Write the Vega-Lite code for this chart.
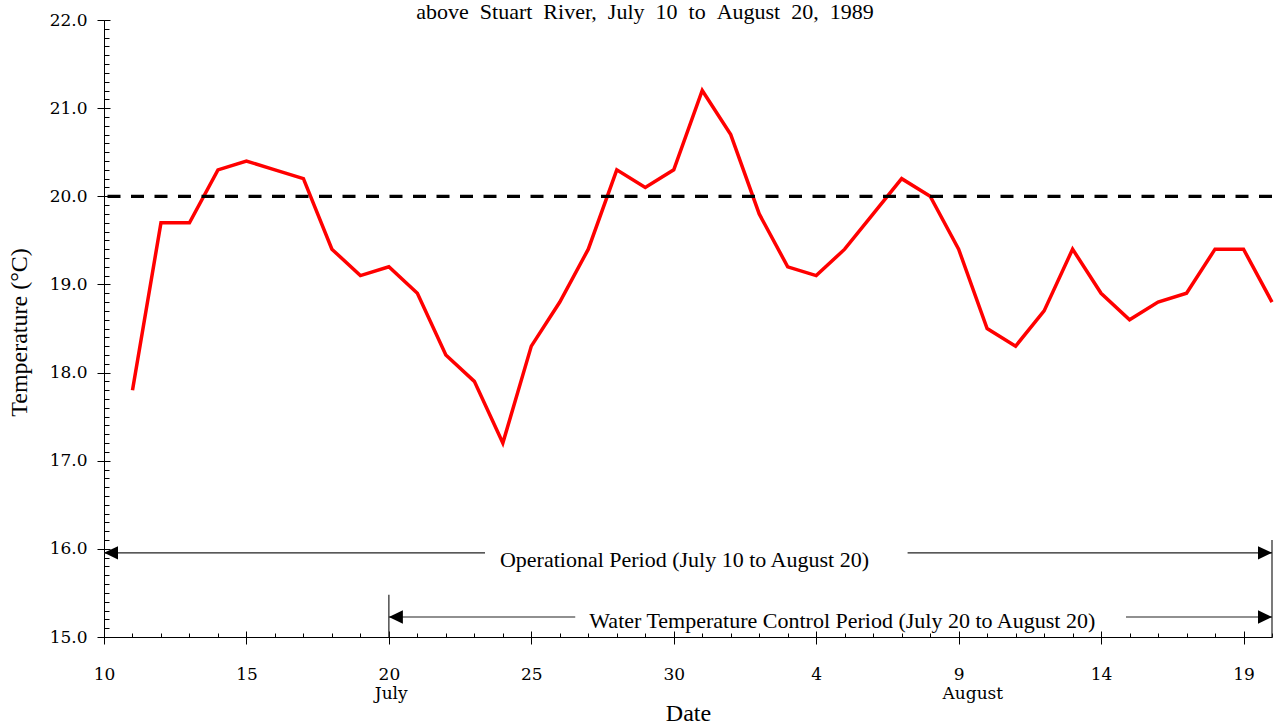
{
  "$schema": "https://vega.github.io/schema/vega-lite/v6.json",
  "autosize": "none",
  "width": 1168,
  "height": 617,
  "padding": {"left": 104, "top": 20, "right": 8, "bottom": 88},
  "background": "white",
  "config": {
    "view": {"stroke": null},
    "axis": {"domainColor": "black", "tickColor": "black", "domainWidth": 1, "tickWidth": 1, "grid": false, "labelColor": "black", "titleColor": "black"}
  },
  "title": {
    "text": "above \u00a0Stuart \u00a0River, \u00a0July \u00a010 \u00a0to \u00a0August \u00a020, \u00a01989",
    "font": "Liberation Serif",
    "fontSize": 22,
    "fontWeight": "normal",
    "color": "black",
    "anchor": "middle",
    "dx": -43,
    "offset": -13
  },
  "resolve": {"axis": {"x": "independent", "y": "independent"}},
  "layer": [
    {
      "data": {"values": [
        {"date": "1989-07-11T00:00:00", "temp": 17.8},
        {"date": "1989-07-12T00:00:00", "temp": 19.7},
        {"date": "1989-07-13T00:00:00", "temp": 19.7},
        {"date": "1989-07-14T00:00:00", "temp": 20.3},
        {"date": "1989-07-15T00:00:00", "temp": 20.4},
        {"date": "1989-07-16T00:00:00", "temp": 20.3},
        {"date": "1989-07-17T00:00:00", "temp": 20.2},
        {"date": "1989-07-18T00:00:00", "temp": 19.4},
        {"date": "1989-07-19T00:00:00", "temp": 19.1},
        {"date": "1989-07-20T00:00:00", "temp": 19.2},
        {"date": "1989-07-21T00:00:00", "temp": 18.9},
        {"date": "1989-07-22T00:00:00", "temp": 18.2},
        {"date": "1989-07-23T00:00:00", "temp": 17.9},
        {"date": "1989-07-24T00:00:00", "temp": 17.2},
        {"date": "1989-07-25T00:00:00", "temp": 18.3},
        {"date": "1989-07-26T00:00:00", "temp": 18.8},
        {"date": "1989-07-27T00:00:00", "temp": 19.4},
        {"date": "1989-07-28T00:00:00", "temp": 20.3},
        {"date": "1989-07-29T00:00:00", "temp": 20.1},
        {"date": "1989-07-30T00:00:00", "temp": 20.3},
        {"date": "1989-07-31T00:00:00", "temp": 21.2},
        {"date": "1989-08-01T00:00:00", "temp": 20.7},
        {"date": "1989-08-02T00:00:00", "temp": 19.8},
        {"date": "1989-08-03T00:00:00", "temp": 19.2},
        {"date": "1989-08-04T00:00:00", "temp": 19.1},
        {"date": "1989-08-05T00:00:00", "temp": 19.4},
        {"date": "1989-08-06T00:00:00", "temp": 19.8},
        {"date": "1989-08-07T00:00:00", "temp": 20.2},
        {"date": "1989-08-08T00:00:00", "temp": 20.0},
        {"date": "1989-08-09T00:00:00", "temp": 19.4},
        {"date": "1989-08-10T00:00:00", "temp": 18.5},
        {"date": "1989-08-11T00:00:00", "temp": 18.3},
        {"date": "1989-08-12T00:00:00", "temp": 18.7},
        {"date": "1989-08-13T00:00:00", "temp": 19.4},
        {"date": "1989-08-14T00:00:00", "temp": 18.9},
        {"date": "1989-08-15T00:00:00", "temp": 18.6},
        {"date": "1989-08-16T00:00:00", "temp": 18.8},
        {"date": "1989-08-17T00:00:00", "temp": 18.9},
        {"date": "1989-08-18T00:00:00", "temp": 19.4},
        {"date": "1989-08-19T00:00:00", "temp": 19.4},
        {"date": "1989-08-20T00:00:00", "temp": 18.8}
      ]},
      "mark": {"type": "line", "color": "#ff0000", "strokeWidth": 3.5, "strokeJoin": "miter"},
      "encoding": {
        "x": {
          "field": "date", "type": "temporal",
          "scale": {"domain": [{"year": 1989, "month": 7, "date": 10}, {"year": 1989, "month": 8, "date": 20}]},
          "axis": {
            "orient": "bottom",
            "values": [
              {"year": 1989, "month": 7, "date": 10},
              {"year": 1989, "month": 7, "date": 15},
              {"year": 1989, "month": 7, "date": 20},
              {"year": 1989, "month": 7, "date": 25},
              {"year": 1989, "month": 7, "date": 30},
              {"year": 1989, "month": 8, "date": 4},
              {"year": 1989, "month": 8, "date": 9},
              {"year": 1989, "month": 8, "date": 14},
              {"year": 1989, "month": 8, "date": 19}
            ],
            "format": "%-d",
            "labelFont": "DejaVu Serif",
            "labelFontSize": 17,
            "labelBaseline": "alphabetic",
            "labelPadding": 35,
            "labelOverlap": false,
            "labelFlush": false,
            "tickSize": 7,
            "title": "Date",
            "titleFont": "Liberation Serif",
            "titleFontSize": 24,
            "titleFontWeight": "normal",
            "titleBaseline": "alphabetic",
            "titleY": 83
          }
        },
        "y": {
          "field": "temp", "type": "quantitative",
          "scale": {"domain": [15, 22], "nice": false, "zero": false},
          "axis": {
            "orient": "left",
            "values": [15, 16, 17, 18, 19, 20, 21, 22],
            "format": ".1f",
            "labelFont": "DejaVu Serif",
            "labelFontSize": 17,
            "labelPadding": 10,
            "labelBaseline": "middle",
            "tickSize": 7,
            "title": "Temperature (°C)",
            "titleFont": "Liberation Serif",
            "titleFontSize": 24,
            "titleFontWeight": "normal",
            "titleAngle": -90,
            "titleAlign": "center",
            "titleBaseline": "alphabetic",
            "titleX": -78,
            "titleY": 312
          }
        }
      }
    },
    {
      "data": {"values": [{"threshold": 20}]},
      "mark": {"type": "rule", "color": "black", "strokeWidth": 3.2, "strokeDash": [13, 10.5]},
      "encoding": {
        "y": {
          "field": "threshold", "type": "quantitative",
          "axis": {"orient": "left", "tickCount": 70, "tickSize": -5, "labels": false, "domain": false, "title": null, "grid": false}
        }
      }
    },
    {
      "data": {"values": [
        {"start": "1989-07-10T00:00:00", "end": "1989-07-23T09:00:00", "level": 15.955},
        {"start": "1989-08-07T05:00:00", "end": "1989-08-20T00:00:00", "level": 15.955},
        {"start": "1989-07-20T00:00:00", "end": "1989-07-26T13:00:00", "level": 15.227},
        {"start": "1989-08-14T21:00:00", "end": "1989-08-20T00:00:00", "level": 15.227}
      ]},
      "mark": {"type": "rule", "color": "#222222", "strokeWidth": 1.2},
      "encoding": {
        "x": {
          "field": "start", "type": "temporal",
          "axis": {"orient": "bottom", "tickCount": {"interval": "day", "step": 1}, "tickSize": -4, "labels": false, "domain": false, "title": null, "grid": false}
        },
        "x2": {"field": "end"},
        "y": {
          "field": "level", "type": "quantitative",
          "axis": {"orient": "left", "values": [15, 16, 17, 18, 19, 20, 21, 22], "tickSize": -6, "labels": false, "domain": false, "title": null, "grid": false}
        }
      }
    },
    {
      "data": {"values": [
        {"date": "1989-07-20T00:00:00", "low": 15, "high": 15.48},
        {"date": "1989-08-20T00:00:00", "low": 15, "high": 16.1}
      ]},
      "mark": {"type": "rule", "color": "#222222", "strokeWidth": 1.2},
      "encoding": {
        "x": {
          "field": "date", "type": "temporal",
          "axis": {
            "orient": "bottom",
            "values": [
              {"year": 1989, "month": 7, "date": 10},
              {"year": 1989, "month": 7, "date": 15},
              {"year": 1989, "month": 7, "date": 20},
              {"year": 1989, "month": 7, "date": 25},
              {"year": 1989, "month": 7, "date": 30},
              {"year": 1989, "month": 8, "date": 4},
              {"year": 1989, "month": 8, "date": 9},
              {"year": 1989, "month": 8, "date": 14},
              {"year": 1989, "month": 8, "date": 19}
            ],
            "tickSize": -6, "labels": false, "domain": false, "title": null, "grid": false
          }
        },
        "y": {"field": "low", "type": "quantitative", "axis": null},
        "y2": {"field": "high"}
      }
    },
    {
      "data": {"values": [
        {"date": "1989-07-10T00:00:00", "level": 15.955, "direction": "left"},
        {"date": "1989-08-20T00:00:00", "level": 15.955, "direction": "right"},
        {"date": "1989-07-20T00:00:00", "level": 15.227, "direction": "left"},
        {"date": "1989-08-20T00:00:00", "level": 15.227, "direction": "right"}
      ]},
      "mark": {"type": "point", "filled": true, "color": "black", "opacity": 1, "size": 196, "strokeWidth": 0},
      "encoding": {
        "x": {"field": "date", "type": "temporal", "axis": null},
        "y": {"field": "level", "type": "quantitative", "axis": null},
        "shape": {
          "field": "direction", "type": "nominal",
          "scale": {"domain": ["left", "right"], "range": ["M0,0L2,-0.95L2,0.95Z", "M0,0L-2,-0.95L-2,0.95Z"]},
          "legend": null
        }
      }
    },
    {
      "data": {"values": [
        {"date": "1989-07-30T09:00:00", "level": 15.798, "label": "Operational Period (July 10 to August 20)"},
        {"date": "1989-08-04T22:00:00", "level": 15.099, "label": "Water Temperature Control Period (July 20 to August 20)"}
      ]},
      "mark": {"type": "text", "font": "Liberation Serif", "fontSize": 22, "color": "black", "align": "center", "baseline": "alphabetic"},
      "encoding": {
        "x": {"field": "date", "type": "temporal", "axis": null},
        "y": {"field": "level", "type": "quantitative", "axis": null},
        "text": {"field": "label"}
      }
    },
    {
      "data": {"values": [
        {"date": "1989-07-20T02:00:00", "level": 14.3, "month": "July"},
        {"date": "1989-08-09T12:00:00", "level": 14.3, "month": "August"}
      ]},
      "mark": {"type": "text", "font": "DejaVu Serif", "fontSize": 17, "color": "black", "align": "center", "baseline": "alphabetic"},
      "encoding": {
        "x": {"field": "date", "type": "temporal", "axis": null},
        "y": {"field": "level", "type": "quantitative", "axis": null},
        "text": {"field": "month"}
      }
    }
  ]
}
